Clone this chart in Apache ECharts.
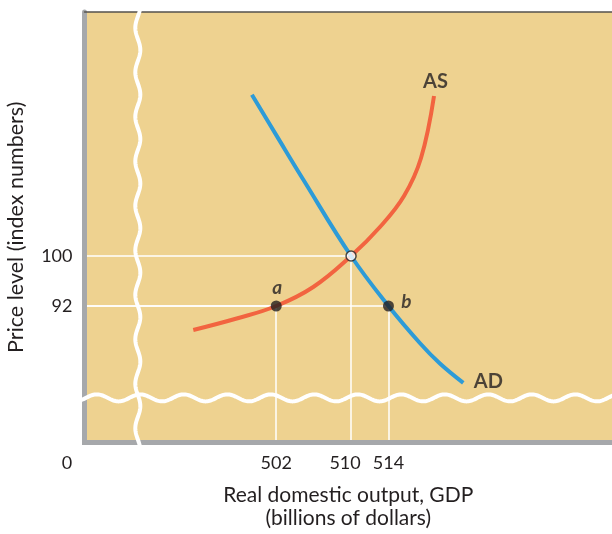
<!DOCTYPE html>
<html><head><meta charset="utf-8">
<script src="https://cdn.jsdelivr.net/npm/echarts@6/dist/echarts.min.js"></script>
<style>html,body{margin:0;padding:0;background:#fff}#c{width:612px;height:534px}</style>
</head><body><div id="c"></div>
<script>
// ---- data ----
const asCurve = [[493.13,88.16],[497.77,90.0],[502,92],[505.96,95.04],[510,100],[513.09,104.64],[515.66,109.6],[517.48,115.68],[518.87,125.6]];
const adCurve = [[499.4,125.8],[502.1,119.1],[504.9,112.2],[510,100],[514,92],[517.4,86.0],[519.5,82.8],[522,79.7]];
const pointNames = ['a','b'];
const pointValues = [[502,92],[514,92]];
const equilibrium = [510,100];
const xTicks = [502,510,514];
const yTicks = [92,100];
const originLabel = '0';
const xName = 'Real domestic output, GDP\n(billions of dollars)';
const yName = 'Price level (index numbers)';
const xBreakValue = 487.2;
const yBreakValue = 77.3;

// ---- axis ranges / styles ----
const xMin = 481.5, xMax = 537.9, yMin = 70.16, yMax = 139.04;
const FONT = 'Lato';
const TXT = '#231F20';
const GRAY = '#A6A8AB';

// reference (white) lines built from the marked points
const refPts = [pointValues[0], pointValues[1], equilibrium];
const refLines = [];
refPts.forEach(p => {
  refLines.push({coords:[[xMin,p[1]],[p[0],p[1]]]});
  refLines.push({coords:[[p[0],p[1]],[p[0],yMin]]});
});

const chart = echarts.init(document.getElementById('c'), null, {renderer:'canvas'});
chart.setOption({
  animation:false,
  backgroundColor:'#fff',
  grid:{left:84.5, right:0, top:12, bottom:91.5, show:true, backgroundColor:'#EED290', borderWidth:0,
        containLabel:false, outerBoundsMode:'none'},
  xAxis:[{
    type:'value', min:xMin, max:xMax, position:'bottom', z:3,
    axisLine:{show:true, onZero:false, lineStyle:{color:GRAY, width:5, cap:'square'}},
    axisTick:{show:false}, splitLine:{show:false},
    axisLabel:{
      customValues:[xMin].concat(xTicks), margin:12, fontSize:18, color:TXT, fontFamily:FONT,
      formatter: v => v === xMin ? '{o|' + originLabel + '}' : (v === 510 ? '{s|' + v + '}' : String(v)),
      rich:{
        o:{fontSize:18, color:TXT, fontFamily:FONT, padding:[0,35,0,0]},
        s:{fontSize:18, color:TXT, fontFamily:FONT, padding:[0,12,0,0]}
      }
    },
    name:xName, nameLocation:'middle', nameGap:41,
    nameTextStyle:{fontSize:21, lineHeight:23, color:TXT, fontFamily:FONT, align:'center'}
  },{
    type:'value', min:xMin, max:xMax, position:'top', z:3,
    axisLine:{show:true, onZero:false, lineStyle:{color:'#54524E', width:1.5}},
    axisTick:{show:false}, axisLabel:{show:false}, splitLine:{show:false}
  }],
  yAxis:{
    type:'value', min:yMin, max:yMax, z:3,
    axisLine:{show:true, onZero:false, lineStyle:{color:GRAY, width:5}},
    axisTick:{show:false}, splitLine:{show:false},
    axisLabel:{customValues:yTicks, margin:12, fontSize:18, color:TXT, fontFamily:FONT},
    name:yName, nameLocation:'middle', nameRotate:90, nameGap:57,
    nameTextStyle:{fontSize:21.5, color:TXT, fontFamily:FONT}
  },
  series:[
    {type:'lines', coordinateSystem:'cartesian2d', z:1, data:refLines,
     lineStyle:{color:'#ffffff', width:1.5, opacity:1}},
    {type:'line', data:asCurve, smooth:0.4, showSymbol:false, z:2,
     lineStyle:{color:'#F26440', width:4}},
    {type:'line', data:adCurve, smooth:0.4, showSymbol:false, z:2,
     lineStyle:{color:'#2D9BD7', width:4}},
    {type:'scatter', z:4, symbolSize:1, itemStyle:{color:'transparent'},
     label:{show:true, position:'inside', fontSize:20, fontWeight:'bold', color:TXT, fontFamily:FONT},
     data:[
       {value:asCurve[asCurve.length-1], label:{formatter:'AS', offset:[1.5,-14]}},
       {value:adCurve[adCurve.length-1], label:{formatter:'AD', offset:[25,-1]}}
     ]},
    {type:'scatter', z:4, symbolSize:11, itemStyle:{color:TXT},
     label:{show:true, position:'inside', formatter:'{b}', fontSize:19, fontWeight:'bold', fontStyle:'italic', color:TXT, fontFamily:FONT},
     data: pointValues.map((v,i) => ({name:pointNames[i], value:v,
       label:{offset: i === 0 ? [1,-18] : [18,-4]}}))},
    {type:'scatter', z:4, symbolSize:10, data:[equilibrium],
     itemStyle:{color:'#ffffff', borderColor:TXT, borderWidth:1.5}},
    {type:'custom', z:5, data:[[xBreakValue]], silent:true,
     renderItem:(params, api) => {
       const cs = params.coordSys;
       const cx = api.coord([api.value(0), yMax])[0];
       const pts = [];
       for (let py = cs.y - 3; py <= cs.y + cs.height + 3.5; py += 1) {
         pts.push([cx + 2.5*Math.cos(2*Math.PI*(py-50)/44.5), py]);
       }
       return {type:'polyline', shape:{points:pts}, style:{stroke:'#ffffff', lineWidth:4, fill:null}};
     }},
    {type:'custom', z:5, data:[[yBreakValue]], silent:true,
     renderItem:(params, api) => {
       const cs = params.coordSys;
       const cy = api.coord([xMin, api.value(0)])[1];
       const pts = [];
       for (let px = cs.x - 4; px <= cs.x + cs.width + 2; px += 1) {
         pts.push([px, cy - 3.5*Math.cos(2*Math.PI*(px-96.8)/43.5)]);
       }
       return {type:'polyline', shape:{points:pts}, style:{stroke:'#ffffff', lineWidth:4, fill:null}};
     }}
  ]
});
</script></body></html>
